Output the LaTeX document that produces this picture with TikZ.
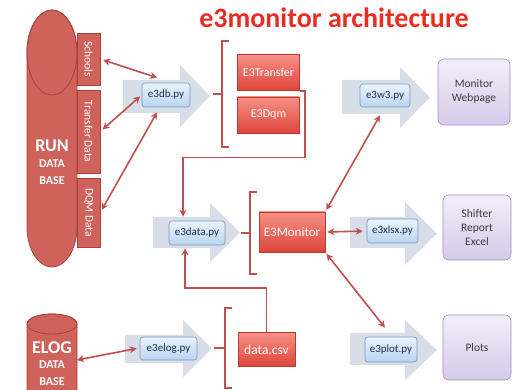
\documentclass[tikz,border=0pt]{standalone}
\usepackage{fontspec}
\setmainfont{Carlito}
\usetikzlibrary{arrows.meta,calc}
\definecolor{lnred}{RGB}{192,80,77}
\definecolor{dbfill}{RGB}{208,98,92}
\definecolor{dbdraw}{RGB}{168,66,62}
\definecolor{titlered}{RGB}{232,45,35}
\definecolor{boxtop}{RGB}{246,145,135}
\definecolor{boxbot}{RGB}{222,68,58}
\definecolor{arrfill}{RGB}{216,222,232}
\definecolor{btntop}{RGB}{234,243,252}
\definecolor{btnbot}{RGB}{186,212,240}
\definecolor{btndraw}{RGB}{120,150,190}
\definecolor{btntext}{RGB}{30,45,80}
\definecolor{purtop}{RGB}{242,238,250}
\definecolor{purbot}{RGB}{214,202,234}
\definecolor{purdraw}{RGB}{160,145,195}
\definecolor{purtext}{RGB}{60,60,60}
\newcommand{\bigarr}[7]{\fill[arrfill] (#1,-#2) -- (#4,-#2) -- (#4,-#5) -- (#7,{-(#5+#6)/2}) -- (#4,-#6) -- (#4,-#3) -- (#1,-#3) -- cycle;}
\begin{document}
\begin{tikzpicture}[x=1pt,y=1pt,
  redbox/.style={draw=boxbot!85!black, line width=0.6pt, top color=boxtop, bottom color=boxbot, text=white, font=\fontsize{12}{13}\selectfont, inner sep=0pt},
  btn/.style={draw=btndraw, line width=0.6pt, rounded corners=3pt, top color=btntop, bottom color=btnbot, text=btntext, font=\fontsize{11}{12}\selectfont, inner sep=0pt},
  purbox/.style={draw=purdraw, line width=0.6pt, rounded corners=6pt, top color=purtop, bottom color=purbot, text=purtext, font=\fontsize{11.5}{14}\selectfont, align=center, inner sep=0pt},
  tab/.style={draw=dbdraw, line width=0.6pt, fill=dbfill, inner sep=0pt},
  tablabel/.style={text=white, rotate=-90, font=\fontsize{11.5}{12}\selectfont},
  dbtext/.style={text=white, font=\bfseries\fontsize{12}{13}\selectfont},
  dbl/.style={draw=lnred, line width=1.6pt, {Stealth[length=7pt,width=7pt]}-{Stealth[length=7pt,width=7pt]}},
  sgl/.style={draw=lnred, line width=1.6pt, -{Stealth[length=7pt,width=7pt]}},
  brk/.style={draw=lnred, line width=1.4pt}]
\useasboundingbox (0,0) rectangle (512,-390);
\fill[white] (0,0) rectangle (512,-390);

% title
\node[text=titlered, font=\bfseries\fontsize{28}{29}\selectfont] (title) at (334,-18) {e3monitor architecture};

% RUN database
\path[fill=dbfill, draw=dbdraw, line width=0.8pt] (27,-52.5) -- (27,-227) arc[start angle=180, end angle=360, x radius=25, y radius=40] -- (77,-52.5) arc[start angle=0, end angle=180, x radius=25, y radius=42.5] -- cycle;
\draw[dbdraw, line width=0.8pt] (52,-52.5) ellipse[x radius=25, y radius=42.5];
\node[dbtext, font=\bfseries\fontsize{18}{19}\selectfont] (run) at (52,-146) {RUN};
\node[dbtext] (rundata) at (52,-164) {DATA};
\node[dbtext] (runbase) at (52,-181) {BASE};
\node[tab, minimum width=23pt, minimum height=52pt] (schools) at (88.5,-59) {};
\node[tablabel] at (schools.center) {Schools};
\node[tab, minimum width=23pt, minimum height=83pt] (transfer) at (88.5,-131.5) {};
\node[tablabel] at (transfer.center) {Transfer Data};
\node[tab, minimum width=23pt, minimum height=69pt] (dqm) at (88.5,-212.5) {};
\node[tablabel] at (dqm.center) {DQM Data};

% ELOG database
\path[fill=dbfill, draw=dbdraw, line width=0.8pt] (27,-324) -- (27,-396) -- (77,-396) -- (77,-324) arc[start angle=0, end angle=180, x radius=25, y radius=10] -- cycle;
\draw[dbdraw, line width=0.8pt] (52,-324) ellipse[x radius=25, y radius=10];
\node[dbtext, font=\bfseries\fontsize{18}{19}\selectfont] (elog) at (52,-348) {ELOG};
\node[dbtext] (elogdata) at (52,-365) {DATA};
\node[dbtext] (elogbase) at (52,-382) {BASE};
\coordinate (elogport) at (77,-360);

% big arrows
\bigarr{123}{80}{113}{180}{65}{127}{210}
\bigarr{153}{217}{248}{210}{203}{262}{240}
\bigarr{125}{335}{363}{183}{320}{377}{212}
\bigarr{342}{80}{114}{400}{67}{128}{430}
\bigarr{350}{217}{248}{405}{202}{265}{437}
\bigarr{350}{333}{365}{405}{320}{380}{437}

% buttons
\node[btn, minimum width=48pt, minimum height=24pt] (e3db) at (166,-95) {e3db.py};
\node[btn, minimum width=56pt, minimum height=24pt] (e3data) at (197,-233) {e3data.py};
\node[btn, minimum width=57pt, minimum height=23pt] (e3elog) at (168.5,-348.5) {e3elog.py};
\node[btn, minimum width=50pt, minimum height=23pt] (e3w3) at (385,-95.5) {e3w3.py};
\node[btn, minimum width=51pt, minimum height=24pt] (e3xlsx) at (392.5,-231) {e3xlsx.py};
\node[btn, minimum width=52pt, minimum height=25pt] (e3plot) at (391,-349.5) {e3plot.py};

% red boxes
\node[redbox, minimum width=62pt, minimum height=36pt] (E3Transfer) at (268.5,-72.5) {E3Transfer};
\node[redbox, minimum width=62pt, minimum height=36pt] (E3Dqm) at (268.5,-115) {E3Dqm};
\node[redbox, minimum width=66pt, minimum height=40pt, font=\fontsize{13}{14}\selectfont] (E3Monitor) at (292,-232) {E3Monitor};
\node[redbox, minimum width=57pt, minimum height=34pt, font=\fontsize{13.5}{14}\selectfont] (datacsv) at (266.5,-349.5) {data.csv};

% purple boxes
\node[purbox, minimum width=72pt, minimum height=66pt] (webpage) at (474,-92) {Monitor\\Webpage};
\node[purbox, minimum width=68pt, minimum height=65pt] (excel) at (477,-227.5) {Shifter\\Report\\Excel};
\node[purbox, minimum width=68pt, minimum height=65pt] (plots) at (477,-347.5) {Plots};

% brackets
\draw[brk] (229,-41) -- (222,-41) -- (222,-147) -- (229,-147) (222,-94) -- (213,-94);
\draw[brk] (257,-192) -- (250,-192) -- (250,-274) -- (257,-274) (250,-233) -- (241,-233);
\draw[brk] (232,-308) -- (225,-308) -- (225,-388) -- (232,-388) (225,-348) -- (214,-348);

% connectors
\draw[dbl, shorten <=3pt] (schools.east) -- ([xshift=-9pt,yshift=5pt]e3db.north);
\draw[dbl, shorten <=3pt, shorten >=2pt] (transfer.east) -- (e3db.west);
\draw[dbl, shorten <=3pt] (dqm.east) -- ([xshift=-9pt,yshift=-5pt]e3db.south);
\draw[sgl] (E3Transfer.south east) -- ++(5,0) |- ([shift={(-14,63)}]e3data.north) -- ([shift={(-14,4)}]e3data.north);
\draw[sgl] (datacsv.north) |- ([shift={(-12,-43)}]e3data.south) -- ([shift={(-12,-3)}]e3data.south);
\draw[dbl] (elogport) -- ([xshift=-3pt]e3elog.west);
\draw[dbl, shorten <=2pt] (E3Monitor.north east) -- ([xshift=-5pt,yshift=-8pt]e3w3.south);
\draw[dbl, shorten <=2pt, shorten >=4pt] (E3Monitor.east) -- (e3xlsx.west);
\draw[dbl, shorten <=2pt] (E3Monitor.south east) -- ([xshift=-6pt,yshift=9pt]e3plot.north);
\end{tikzpicture}
\end{document}
